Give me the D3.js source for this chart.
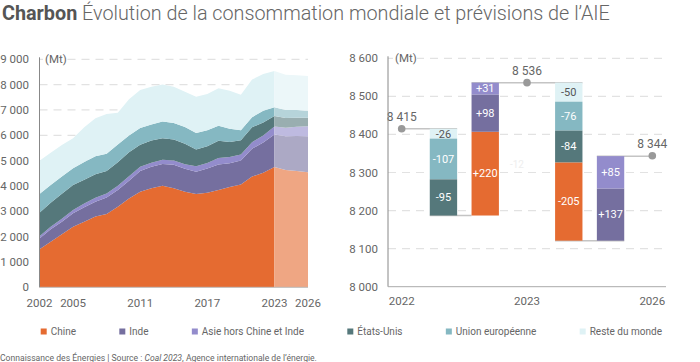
<!DOCTYPE html>
<html lang="fr">
<head>
<meta charset="utf-8">
<script src="https://cdn.jsdelivr.net/npm/d3@7"></script>
<style>
  html, body { margin: 0; padding: 0; background: #fff; }
  svg { display: block; font-family: Roboto, "Noto Sans", sans-serif; }
</style>
</head>
<body>
<svg id="chart" width="700" height="362"></svg>
<script>
// --- données (Mt) ---
const years = [2002, 2003, 2004, 2005, 2006, 2007, 2008, 2009, 2010, 2011, 2012, 2013,
  2014, 2015, 2016, 2017, 2018, 2019, 2020, 2021, 2022, 2023, 2024, 2025, 2026];
const chine = [1500, 1800, 2090, 2390, 2590, 2790, 2890, 3180, 3510, 3775, 3910, 4010,
  3910, 3775, 3680, 3735, 3840, 3960, 4060, 4370, 4525, 4745, 4630, 4590, 4540];
const inde = [430, 490, 500, 530, 570, 590, 650, 660, 700, 820, 850, 860,
  930, 900, 885, 950, 1010, 940, 945, 1100, 1190, 1288, 1330, 1380, 1425];
const asie = [90, 100, 115, 130, 145, 155, 160, 165, 170, 165, 160, 160,
  165, 185, 215, 225, 250, 245, 240, 260, 280, 311, 340, 370, 396];
const etatsUnis = [920, 950, 990, 990, 945, 930, 895, 930, 950, 870, 870, 855,
  825, 805, 660, 660, 685, 590, 555, 590, 510, 415, 380, 355, 331];
const ue = [740, 700, 680, 660, 700, 710, 680, 700, 660, 660, 640, 660,
  660, 660, 650, 630, 595, 525, 395, 395, 460, 353, 320, 300, 277];
const reste = [1320, 1275, 1245, 1180, 1365, 1495, 1565, 1255, 1430, 1500, 1490, 1465,
  1430, 1395, 1435, 1430, 1475, 1500, 1405, 1485, 1450, 1424, 1390, 1375, 1375];
const lastActualYear = 2023;
const xTickYears = [2002, 2005, 2011, 2017, 2023, 2026];
const yTicksLeft = [0, 1000, 2000, 3000, 4000, 5000, 6000, 7000, 8000, 9000];

const seriesKeys = ["chine", "inde", "asie", "etatsUnis", "ue", "reste"];
const seriesNames = ["Chine", "Inde", "Asie hors Chine et Inde", "États-Unis", "Union européenne", "Reste du monde"];
const seriesColors = ["#e56b31", "#756f9f", "#938ccc", "#55787b", "#85b8c2", "#dff2f5"];

// cascade 2022 -> 2023 -> 2026
const wfSlots = ["2022", "baisse1", "hausse1", "2023", "baisse2", "hausse2", "2026"];
const wfTotalSlots = ["2022", "2023", "2026"];
const wfTotals = [8415, 8536, 8344];
const baisse1Keys = ["reste", "ue", "etatsUnis"];
const baisse1Values = [-26, -107, -95];
const hausse1Keys = ["chine", "inde", "asie"];
const hausse1Values = [220, 98, 31];
const baisse2Keys = ["reste", "ue", "etatsUnis", "chine"];
const baisse2Values = [-50, -76, -84, -205];
const hausse2Keys = ["inde", "asie"];
const hausse2Values = [137, 85];
const yTicksRight = [8000, 8100, 8200, 8300, 8400, 8500, 8600];

const fr = d3.formatLocale({ decimal: ",", thousands: " ", grouping: [3], currency: ["", " €"] });
const fmt = fr.format(",d");
const fmtSigned = (v) => (v > 0 ? "+" : "-") + Math.abs(v);

const colorOf = (key) => seriesColors[seriesKeys.indexOf(key)];
const lighten = (c) => d3.interpolateRgb(c, "#fff")(0.4);

const svg = d3.select("#chart");
const textColor = "#666";

// --- titre ---
const title = svg.append("text").attr("x", 2).attr("y", 19.5).attr("font-size", 19.8);
title.append("tspan").attr("font-weight", 700).attr("fill", "#555").text("Charbon");
title.append("tspan").attr("font-weight", 300).attr("fill", "#666")
  .text(" Évolution de la consommation mondiale et prévisions de l’AIE");

function gridAndAxis(g, y, ticks, x0, x1, labelX, fmtTick) {
  g.append("g").selectAll("line").data(ticks.slice(1)).join("line")
    .attr("x1", x0).attr("x2", x1)
    .attr("y1", (d) => y(d)).attr("y2", (d) => y(d))
    .attr("stroke", "#e2e2e2").attr("stroke-width", 1.2).attr("stroke-dasharray", "8,6");
  g.append("g").selectAll("text").data(ticks).join("text")
    .attr("x", labelX).attr("y", (d) => y(d)).attr("dy", "0.35em")
    .attr("text-anchor", "end").attr("font-size", 11.5).attr("fill", textColor)
    .text(fmtTick);
}

// --- graphique de gauche : aires empilées ---
const x = d3.scaleLinear().domain([2002, 2026]).range([39.5, 308]);
const y = d3.scaleLinear().domain([0, 9000]).range([287.3, 59.3]);

const rows = years.map((yr, i) => ({
  year: yr, chine: chine[i], inde: inde[i], asie: asie[i],
  etatsUnis: etatsUnis[i], ue: ue[i], reste: reste[i],
}));
const stack = d3.stack().keys(seriesKeys);
const area = d3.area().x((d) => x(d.data.year)).y0((d) => y(d[0])).y1((d) => y(d[1]));

const left = svg.append("g");
gridAndAxis(left, y, yTicksLeft, x(2002), x(2026), 29, fmt);

const histStack = stack(rows.filter((r) => r.year <= lastActualYear));
const prevStack = stack(rows.filter((r) => r.year >= lastActualYear));
left.append("g").selectAll("path").data(histStack).join("path")
  .attr("d", area).attr("fill", (s) => colorOf(s.key));
left.append("g").selectAll("path").data(prevStack).join("path")
  .attr("d", area).attr("fill", (s) => lighten(colorOf(s.key)));

left.append("line").attr("x1", x(2002)).attr("x2", x(2002))
  .attr("y1", y(9000) - 2).attr("y2", y(0)).attr("stroke", "#888").attr("stroke-width", 1);
left.append("line").attr("x1", x(2002)).attr("x2", x(2026))
  .attr("y1", y(0)).attr("y2", y(0)).attr("stroke", "#bbb").attr("stroke-width", 1);

left.append("g").selectAll("text").data(xTickYears).join("text")
  .attr("x", (d) => x(d)).attr("y", 307).attr("text-anchor", "middle")
  .attr("font-size", 11.5).attr("fill", textColor).text((d) => d);

left.append("rect").attr("x", 43).attr("y", y(9000) - 8).attr("width", 24).attr("height", 16).attr("fill", "#fff");
left.append("text").attr("x", 45).attr("y", y(9000)).attr("dy", "0.35em")
  .attr("font-size", 11.5).attr("fill", textColor).text("(Mt)");

// --- graphique de droite : cascade ---
const xr = d3.scaleBand().domain(wfSlots).range([388, 666]).paddingInner(0.345).paddingOuter(0);
const yr = d3.scaleLinear().domain([8000, 8600]).range([286.7, 58.3]);
const cx = (slot) => xr(slot) + xr.bandwidth() / 2;

const right = svg.append("g");
gridAndAxis(right, yr, yTicksRight, xr.range()[0], xr.range()[1], 378, fmt);

function buildSegments(slot, keys, values, start) {
  let run = start;
  const segs = keys.map((key, i) => {
    const y0 = run;
    run += values[i];
    return { slot, key, value: values[i], y0, y1: run };
  });
  return { segs, end: run };
}
const b1 = buildSegments("baisse1", baisse1Keys, baisse1Values, wfTotals[0]);
const h1 = buildSegments("hausse1", hausse1Keys, hausse1Values, b1.end);
const b2 = buildSegments("baisse2", baisse2Keys, baisse2Values, h1.end);
const h2 = buildSegments("hausse2", hausse2Keys, hausse2Values, b2.end);
const segments = [...b1.segs, ...h1.segs, ...b2.segs, ...h2.segs];

// connecteurs
const connectors = [
  { xa: cx("2022"), xb: xr("baisse1") + xr.bandwidth(), v: wfTotals[0] },
  { xa: xr("baisse1"), xb: xr("hausse1"), v: b1.end },
  { xa: xr("hausse1"), xb: xr("baisse2") + xr.bandwidth(), v: h1.end },
  { xa: xr("baisse2"), xb: xr("hausse2") + xr.bandwidth(), v: b2.end },
  { xa: xr("hausse2"), xb: cx("2026"), v: h2.end },
];
right.append("g").selectAll("line").data(connectors).join("line")
  .attr("x1", (d) => d.xa).attr("x2", (d) => d.xb)
  .attr("y1", (d) => yr(d.v)).attr("y2", (d) => yr(d.v))
  .attr("stroke", "#c4c4c4").attr("stroke-width", 1.5);

right.append("g").selectAll("rect").data(segments).join("rect")
  .attr("x", (d) => xr(d.slot)).attr("width", xr.bandwidth())
  .attr("y", (d) => yr(Math.max(d.y0, d.y1)))
  .attr("height", (d) => Math.abs(yr(d.y0) - yr(d.y1)))
  .attr("fill", (d) => colorOf(d.key));

right.append("g").selectAll("text").data(segments).join("text")
  .attr("x", (d) => cx(d.slot)).attr("y", (d) => yr((d.y0 + d.y1) / 2)).attr("dy", "0.35em")
  .attr("text-anchor", "middle").attr("font-size", 11)
  .attr("fill", (d) => (d.key === "reste" ? "#555" : "#fff"))
  .text((d) => fmtSigned(d.value));

// étiquette presque invisible
right.append("text").attr("x", (xr("hausse1") + xr.bandwidth() + xr("2023") + xr.bandwidth() / 2) / 2 + 4)
  .attr("y", yr(8320)).attr("dy", "0.35em").attr("text-anchor", "middle")
  .attr("font-size", 10).attr("fill", "#eee").text("-12");

// totaux
right.append("g").selectAll("circle").data(wfTotals).join("circle")
  .attr("cx", (d, i) => cx(wfTotalSlots[i])).attr("cy", (d) => yr(d))
  .attr("r", 3.8).attr("fill", "#999");
right.append("g").selectAll("text").data(wfTotals).join("text")
  .attr("x", (d, i) => cx(wfTotalSlots[i])).attr("y", (d) => yr(d) - 8)
  .attr("text-anchor", "middle").attr("font-size", 12).attr("fill", textColor)
  .text(fmt);

right.append("line").attr("x1", xr.range()[0]).attr("x2", xr.range()[0])
  .attr("y1", yr(8600) - 2).attr("y2", yr(8000)).attr("stroke", "#888").attr("stroke-width", 1);
right.append("line").attr("x1", xr.range()[0]).attr("x2", xr.range()[1])
  .attr("y1", yr(8000)).attr("y2", yr(8000)).attr("stroke", "#aaa").attr("stroke-width", 1);

right.append("g").selectAll("text").data(wfTotalSlots).join("text")
  .attr("x", (d) => cx(d)).attr("y", 305).attr("text-anchor", "middle")
  .attr("font-size", 11.5).attr("fill", textColor).text((d) => d);

right.append("rect").attr("x", 393).attr("y", yr(8600) - 8).attr("width", 24).attr("height", 16).attr("fill", "#fff");
right.append("text").attr("x", 395).attr("y", yr(8600)).attr("dy", "0.35em")
  .attr("font-size", 11.5).attr("fill", textColor).text("(Mt)");

// --- légende : premier texte à 50.7, dernier à 589.7, écarts égaux ---
const legend = svg.append("g");
const legendItems = legend.selectAll("g").data(seriesNames).join("g");
const legendTexts = legendItems.append("text").attr("y", 331.5).attr("dy", "0.35em")
  .attr("font-size", 10).attr("fill", textColor).text((d) => d);
const widths = legendTexts.nodes().map((n) => n.getComputedTextLength());
const firstX = 50.7, lastX = 589.7;
const gap = (lastX - firstX - d3.sum(widths.slice(0, -1))) / (widths.length - 1);
let lx = firstX;
legendItems.each(function (d, i) {
  const item = d3.select(this);
  item.select("text").attr("x", lx);
  item.insert("rect", "text").attr("x", lx - 10).attr("y", 331.5 - 3)
    .attr("width", 6).attr("height", 6).attr("fill", seriesColors[i]);
  lx += widths[i] + gap;
});

// --- source ---
const src = svg.append("text").attr("x", 0).attr("y", 360.5).attr("font-size", 8.6).attr("fill", "#666");
src.append("tspan").text("Connaissance des Énergies | Source : ");
src.append("tspan").attr("font-style", "italic").text("Coal 2023");
src.append("tspan").text(", Agence internationale de l’énergie.");
</script>
</body>
</html>
